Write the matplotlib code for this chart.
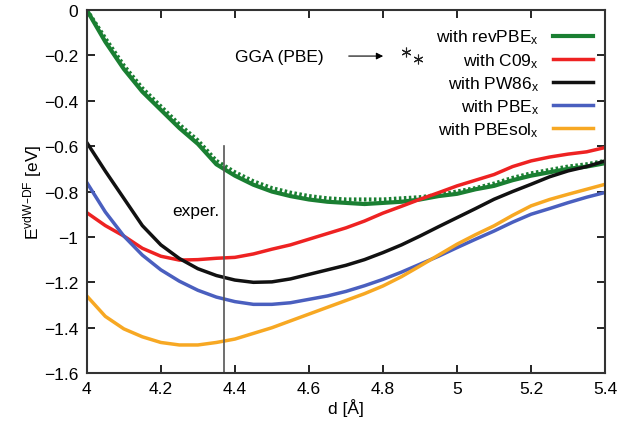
import matplotlib
matplotlib.use("Agg")
import matplotlib.pyplot as plt
from matplotlib.ticker import FuncFormatter

plt.rcParams['font.family'] = ['Liberation Sans', 'DejaVu Sans']
plt.rcParams['mathtext.default'] = 'regular'

# separation d [A]
d = [4.00, 4.05, 4.10, 4.15, 4.20, 4.25, 4.30, 4.35, 4.40, 4.45,
     4.50, 4.55, 4.60, 4.65, 4.70, 4.75, 4.80, 4.85, 4.90, 4.95,
     5.00, 5.05, 5.10, 5.15, 5.20, 5.25, 5.30, 5.35, 5.40]

revpbe = [0.00, -0.14, -0.26, -0.36, -0.44, -0.52, -0.59, -0.68, -0.73, -0.77,
          -0.80, -0.82, -0.835, -0.845, -0.85, -0.855, -0.85, -0.845, -0.835, -0.82,
          -0.81, -0.79, -0.775, -0.75, -0.73, -0.715, -0.70, -0.69, -0.675]
revpbe_b = [0.00, -0.125, -0.245, -0.345, -0.425, -0.505, -0.575, -0.665, -0.715, -0.755,
            -0.785, -0.805, -0.82, -0.83, -0.835, -0.835, -0.835, -0.83, -0.825, -0.815,
            -0.80, -0.785, -0.765, -0.74, -0.72, -0.705, -0.69, -0.68, -0.665]
c09 = [-0.893, -0.95, -0.996, -1.05, -1.085, -1.102, -1.10, -1.094, -1.09, -1.075,
       -1.054, -1.035, -1.01, -0.985, -0.96, -0.93, -0.895, -0.865, -0.834, -0.805,
       -0.775, -0.75, -0.725, -0.69, -0.665, -0.648, -0.635, -0.625, -0.606]
pw86 = [-0.584, -0.71, -0.83, -0.95, -1.035, -1.095, -1.14, -1.17, -1.19, -1.20,
        -1.198, -1.185, -1.165, -1.145, -1.125, -1.10, -1.069, -1.035, -0.996, -0.955,
        -0.915, -0.875, -0.834, -0.80, -0.768, -0.735, -0.709, -0.69, -0.665]
pbe = [-0.76, -0.89, -0.996, -1.08, -1.145, -1.195, -1.235, -1.265, -1.285, -1.297,
       -1.297, -1.29, -1.275, -1.26, -1.24, -1.215, -1.187, -1.155, -1.12, -1.085,
       -1.047, -1.01, -0.974, -0.935, -0.90, -0.875, -0.849, -0.825, -0.804]
pbesol = [-1.26, -1.35, -1.405, -1.44, -1.465, -1.476, -1.476, -1.465, -1.45, -1.425,
          -1.40, -1.37, -1.34, -1.31, -1.28, -1.25, -1.216, -1.175, -1.128, -1.08,
          -1.032, -0.99, -0.951, -0.905, -0.863, -0.835, -0.812, -0.79, -0.768]

gga_d = [4.862, 4.895]
gga_e = [-0.185, -0.216]
d_exp = 4.37

fig = plt.figure(figsize=(6.2, 4.31), dpi=100)
ax = fig.add_subplot(1, 1, 1)
fig.subplots_adjust(left=0.140, right=0.976, bottom=0.132, top=0.9745)

ax.plot(d, revpbe_b, color='#1a7f32', lw=3, ls=(0, (0.6, 0.6)))
ax.plot(d, revpbe, color='#1a7f32', lw=3, label=r'with revPBE$_x$')
ax.plot(d, c09, color='#ee2222', lw=2.5, label=r'with C09$_x$')
ax.plot(d, pw86, color='#111111', lw=2.5, label=r'with PW86$_x$')
ax.plot(d, pbe, color='#4a5fbf', lw=2.5, label=r'with PBE$_x$')
ax.plot(d, pbesol, color='#f7a823', lw=2.5, label=r'with PBEsol$_x$')

ax.plot(gga_d, gga_e, ls='none', marker=(6, 2, 0), ms=7, mew=0.8, color='#222222')
ax.annotate('', xy=(4.808, -0.203), xytext=(4.70, -0.203),
            arrowprops=dict(arrowstyle='-|>', color='black', lw=0.8, mutation_scale=10))
ax.text(4.40, -0.203, 'GGA (PBE)', fontsize=12.5, va='center', ha='left')

ax.plot([d_exp, d_exp], [-0.6, -1.6], color='#555555', lw=1.2)
ax.text(4.23, -0.885, 'exper.', fontsize=12.5, va='center', ha='left')

ax.set_xlim(4, 5.4)
ax.set_ylim(-1.6, 0)
ax.set_xticks([4, 4.2, 4.4, 4.6, 4.8, 5, 5.2, 5.4])
ax.set_yticks([0, -0.2, -0.4, -0.6, -0.8, -1, -1.2, -1.4, -1.6])
fmt = FuncFormatter(lambda v, p: ('%g' % v).replace('-', '\u2212'))
ax.xaxis.set_major_formatter(fmt)
ax.yaxis.set_major_formatter(fmt)
ax.tick_params(direction='in', top=True, right=True, length=6, width=1.2,
               labelsize=12.5, pad=6)
for s in ax.spines.values():
    s.set_linewidth(1.5)
    s.set_color('#333333')

ax.set_xlabel('d [\u00c5]', fontsize=12.5, labelpad=1)
ax.set_ylabel('E$^{vdW\u2013DF}$ [eV]', fontsize=12.5, labelpad=0)

ax.legend(loc='upper right', frameon=False, markerfirst=False, fontsize=12.5,
          handlelength=2.3, labelspacing=0.26, borderaxespad=0.3,
          bbox_to_anchor=(1.0, 0.985))

fig.savefig('out.png', dpi=100)
